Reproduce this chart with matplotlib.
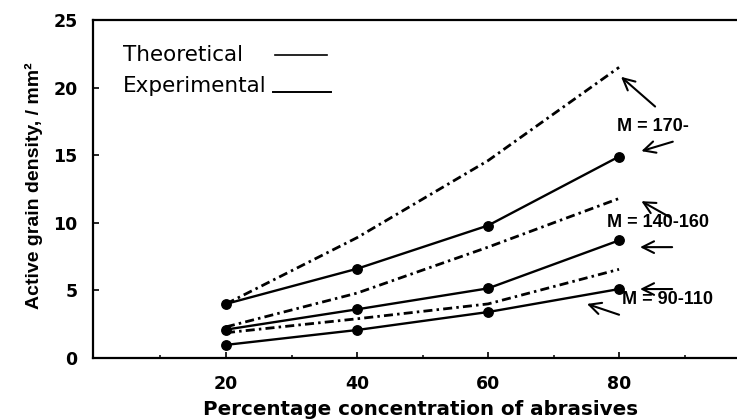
import matplotlib
matplotlib.use("Agg")
import matplotlib.pyplot as plt
from matplotlib.lines import Line2D

plt.rcParams['lines.scale_dashes'] = False

# ---- data ----
concentration = [20, 40, 60, 80]
exp_170 = [4.0, 6.6, 9.8, 14.9]
exp_140_160 = [2.1, 3.6, 5.15, 8.7]
exp_90_110 = [0.97, 2.07, 3.4, 5.1]
theo_170 = [4.0, 8.9, 14.6, 21.5]
theo_140_160 = [2.3, 4.8, 8.2, 11.8]
theo_90_110 = [1.87, 2.9, 4.0, 6.56]

x_ticks = [20, 40, 60, 80]
x_minor = [10, 30, 50, 70, 90]
y_ticks = [0, 5, 10, 15, 20, 25]

group_labels = ["M = 170-", "M = 140-160", "M = 90-110"]
label_pos = [(79.7, 17.1), (78.2, 10.0), (80.5, 4.3)]
# arrows: (tail, head) in data coordinates
arrows = [((85.5, 18.6), (80.3, 20.8)),
          ((88.2, 16.0), (83.4, 15.3)),
          ((87.8, 10.4), (83.4, 11.6)),
          ((88.1, 8.2), (83.2, 8.2)),
          ((88.1, 5.1), (83.2, 5.1)),
          ((80.0, 3.2), (75.1, 4.0))]

W, H = 737, 419
fig = plt.figure(figsize=(W / 100, H / 100), dpi=100)
ax = fig.add_axes([93 / W, (H - 358) / H, (737 - 93) / W, (358 - 20) / H])

dash = (6.5, 3.0, 1.8, 3.0)
for t in (theo_170, theo_140_160, theo_90_110):
    ln, = ax.plot(concentration, t, color='black', lw=2.0)
    ln.set_dashes(dash)
for e in (exp_170, exp_140_160, exp_90_110):
    ax.plot(concentration, e, color='black', lw=1.7, marker='o', ms=6.8)

for txt, (lx, ly) in zip(group_labels, label_pos):
    ax.text(lx, ly, txt, ha='left', va='center', fontsize=13,
            fontweight='bold', family='Liberation Sans')

for (tail, head) in arrows:
    ax.annotate('', xy=head, xytext=tail,
                arrowprops=dict(arrowstyle='->,head_length=0.7,head_width=0.35',
                                lw=1.5, color='black', shrinkA=0, shrinkB=0,
                                mutation_scale=12))

# legend-like key
ax.text(4.3, 22.0, "Theoretical", ha='left', va='baseline', fontsize=15.5)
ax.text(4.3, 19.7, "Experimental", ha='left', va='baseline', fontsize=15.5)
ax.add_line(Line2D([27.5, 35.4], [22.4, 22.4], color='black', lw=1.2))
ax.add_line(Line2D([27.2, 36.0], [19.7, 19.7], color='black', lw=1.4))

ax.set_xlim(-0.3, 98.0)
ax.set_ylim(0, 25)
ax.set_xticks(x_ticks)
ax.set_xticks(x_minor, minor=True)
ax.set_yticks(y_ticks)
ax.tick_params(axis='both', which='major', direction='in', length=4, width=1.2,
               labelsize=12.5)
ax.tick_params(axis='x', which='minor', direction='in', length=2.5, width=1.1)
ax.tick_params(axis='y', which='major', pad=11)
ax.tick_params(axis='x', which='major', pad=12)
for lab in ax.get_xticklabels() + ax.get_yticklabels():
    lab.set_fontweight('bold')

for s in ('left', 'bottom', 'top'):
    ax.spines[s].set_linewidth(1.6)
ax.spines['right'].set_visible(False)

ax.set_xlabel("Percentage concentration of abrasives", fontsize=14.3,
              fontweight='bold')
ax.xaxis.set_label_coords(0.509, -0.124)
ax.set_ylabel("Active grain density, / mm²", fontsize=14, fontweight='bold',
              family='Liberation Sans')
ax.yaxis.set_label_coords(-0.078, 0.51)

fig.savefig("out.png", dpi=100)
